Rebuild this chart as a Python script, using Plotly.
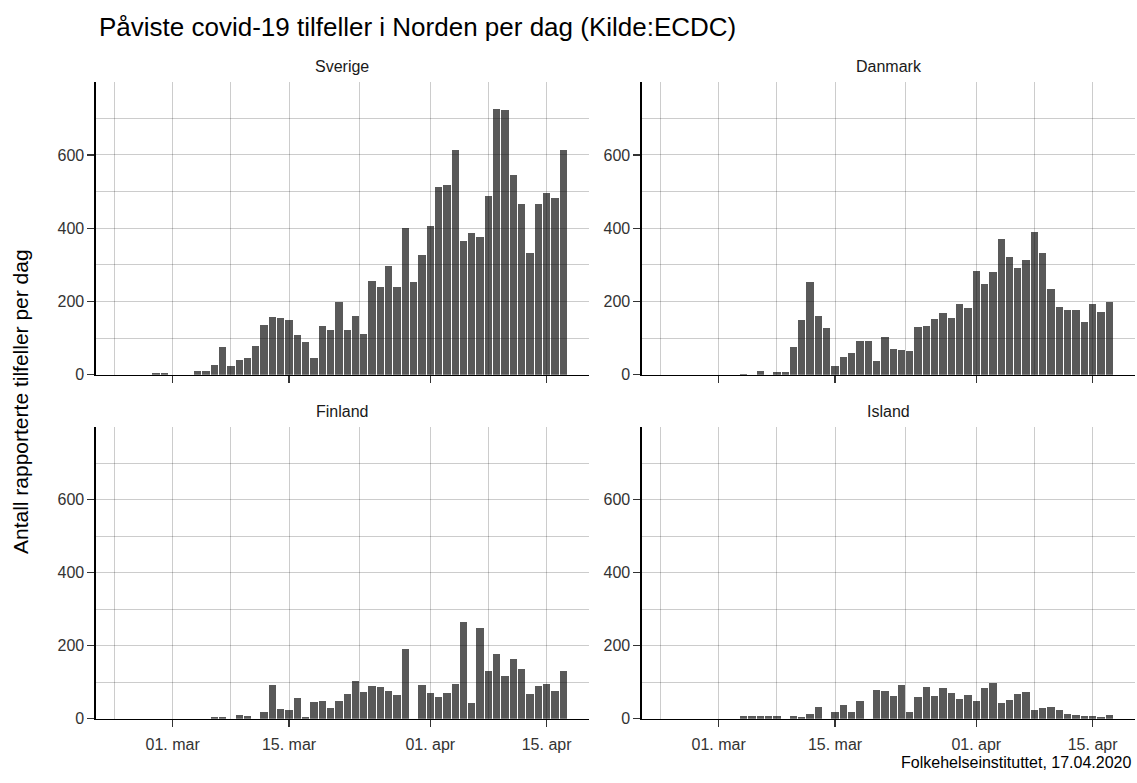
import pandas as pd
import plotly.graph_objects as go

dates = pd.date_range("2020-02-24", "2020-04-17", freq="D")

countries = ["Sverige", "Danmark", "Finland", "Island"]

sverige = [0, 0, 0, 0, 5, 5,
           0, 0, 0, 9, 11, 26, 76, 23, 41, 45, 77, 136, 157, 155, 148, 108, 88, 45, 133, 121,
           199, 122, 160, 110, 257, 238, 296, 240, 400, 253, 327,
           407, 512, 518, 613, 364, 387, 375, 487, 726, 722, 544, 466, 333, 465, 497, 481, 614]
danmark = [0, 0, 0, 0, 0, 0,
           0, 0, 0, 2, 0, 10, 0, 8, 6, 75, 150, 252, 160, 128, 23, 48, 58, 92, 91, 36,
           104, 71, 68, 65, 131, 133, 153, 169, 156, 193, 183,
           283, 247, 279, 371, 320, 292, 312, 390, 331, 234, 184, 177, 177, 144, 193, 170, 198]
finland = [0, 0, 0, 0, 0, 0,
           0, 0, 0, 0, 0, 4, 5, 0, 9, 8, 0, 17, 93, 26, 24, 56, 4, 45, 48, 30,
           48, 68, 104, 72, 90, 86, 77, 65, 191, 0, 93,
           69, 60, 71, 96, 266, 43, 248, 130, 177, 116, 163, 135, 68, 89, 96, 75, 131]
island = [0, 0, 0, 0, 0, 0,
          0, 0, 0, 7, 7, 6, 6, 7, 0, 7, 4, 13, 31, 0, 19, 38, 19, 47, 0, 78,
          77, 62, 93, 18, 59, 86, 62, 85, 71, 55, 64,
          48, 84, 97, 43, 50, 68, 73, 23, 29, 31, 24, 12, 10, 8, 7, 5, 10]

series = [sverige, danmark, finland, island]

x_tickvals = ["2020-03-01", "2020-03-15", "2020-04-01", "2020-04-15"]
x_ticktext = ["01. mar", "15. mar", "01. apr", "15. apr"]
x_minorvals = ["2020-02-23", "2020-03-08", "2020-03-23 12:00", "2020-04-08"]
y_tickvals = [0, 200, 400, 600]
y_minorvals = [100, 300, 500, 700]

title = "Påviste covid-19 tilfeller i Norden per dag (Kilde:ECDC)"
ytitle = "Antall rapporterte tilfeller per dag"
caption = "Folkehelseinstituttet, 17.04.2020"

W, H = 1137, 783
FONT = "Liberation Sans, Arial, sans-serif"

# panel pixel boxes (left, right, top, bottom)
boxes = [(96, 589, 83, 379), (642, 1135, 83, 379),
         (96, 589, 432, 727), (642, 1135, 432, 727)]

x0 = pd.Timestamp("2020-03-01") - pd.Timedelta(days=9.23)
x1 = pd.Timestamp("2020-03-01") + pd.Timedelta(days=50.1)
day_ms = 86400000

fig = go.Figure()
grid_col = "rgba(0,0,0,0.2)"
for i, (name, vals) in enumerate(zip(countries, series)):
    n = "" if i == 0 else str(i + 1)
    fig.add_trace(go.Bar(x=dates, y=vals, width=0.88 * day_ms,
                         marker=dict(color="rgba(0,0,0,0.65)", line=dict(width=0)),
                         xaxis="x" + n, yaxis="y" + n, showlegend=False, name=name))
    l, r, t, b = boxes[i]
    fig.layout["xaxis" + n] = dict(
        domain=[l / W, r / W], anchor="y" + n, type="date",
        range=[x0, x1], tickmode="array", tickvals=x_tickvals, ticktext=x_ticktext,
        showticklabels=(i >= 2), ticks="outside", ticklen=7, tickwidth=1.2, tickcolor="#333333",
        ticklabelstandoff=4,
        showline=True, linecolor="black", linewidth=1.6,
        showgrid=True, gridcolor=grid_col, gridwidth=1,
        minor=dict(tickmode="array", tickvals=x_minorvals, showgrid=True,
                   gridcolor=grid_col, gridwidth=1, ticks=""),
        tickfont=dict(family=FONT, size=16, color="#333333"),
        zeroline=False, fixedrange=True)
    fig.layout["yaxis" + n] = dict(
        domain=[1 - b / H, 1 - t / H], anchor="x" + n,
        range=[0, 799], tickmode="array", tickvals=y_tickvals,
        ticks="outside", ticklen=7, tickwidth=1.2, tickcolor="#333333",
        showline=True, linecolor="black", linewidth=1.6,
        showgrid=True, gridcolor=grid_col, gridwidth=1,
        minor=dict(tickmode="array", tickvals=y_minorvals, showgrid=True,
                   gridcolor=grid_col, gridwidth=1, ticks=""),
        tickfont=dict(family=FONT, size=16, color="#333333"),
        zeroline=False, fixedrange=True)
    fig.add_annotation(text=name, x=(l + r) / 2 / W, y=1 - (t - 16) / H,
                       xref="paper", yref="paper", showarrow=False,
                       xanchor="center", yanchor="middle",
                       font=dict(family=FONT, size=16, color="#1a1a1a"))

fig.add_annotation(text=title, x=97 / W, y=1 - 27 / H, xref="paper", yref="paper",
                   showarrow=False, xanchor="left", yanchor="middle",
                   font=dict(family=FONT, size=26, color="black"))
fig.add_annotation(text=ytitle, x=20.7 / W, y=1 - 406 / H, xref="paper", yref="paper",
                   showarrow=False, xanchor="center", yanchor="middle", textangle=-90,
                   font=dict(family=FONT, size=21, color="black"))
fig.add_annotation(text=caption, x=1133 / W, y=1 - 771 / H, xref="paper", yref="paper",
                   showarrow=False, xanchor="right", yanchor="middle",
                   font=dict(family=FONT, size=16, color="black"))

fig.update_layout(width=W, height=H, autosize=False,
                  margin=dict(l=0, r=0, t=0, b=0),
                  paper_bgcolor="white", plot_bgcolor="white",
                  bargap=0, hovermode=False)

fig.write_html("out.html", config={"displayModeBar": False, "staticPlot": True},
               post_script="document.body.style.margin='0';document.body.style.overflow='hidden';")
